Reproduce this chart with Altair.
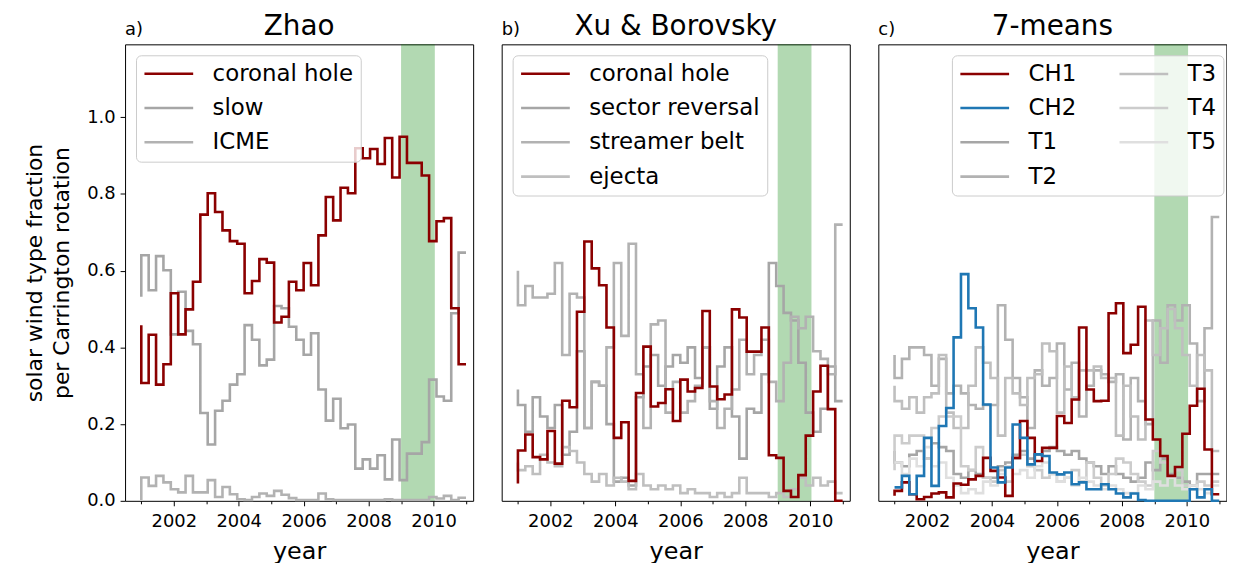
import altair as alt
import pandas as pd

FONT = "DejaVu Sans"

# time grid: one value every 3 Carrington rotations, 2001.0 .. 2011.0
START_YEAR = 2001.0
STEP_YEARS = 10.0 / 44
BAND = (2009.0, 2010.04)

# ---- panel a: Zhao ----
zhao_coronal_hole = [0.458, 0.307, 0.433, 0.303, 0.356, 0.541, 0.434, 0.499, 0.571, 0.746,
                     0.802, 0.753, 0.705, 0.677, 0.670, 0.541, 0.573, 0.630, 0.621, 0.465,
                     0.480, 0.571, 0.549, 0.620, 0.562, 0.692, 0.792, 0.731, 0.816, 0.802,
                     0.919, 0.893, 0.917, 0.878, 0.946, 0.843, 0.949, 0.881, 0.881, 0.848,
                     0.677, 0.729, 0.737, 0.502, 0.356]
zhao_slow = [0.532, 0.640, 0.549, 0.638, 0.601, 0.434, 0.545, 0.443, 0.408, 0.229,
             0.147, 0.235, 0.261, 0.303, 0.330, 0.458, 0.420, 0.353, 0.368, 0.508,
             0.502, 0.454, 0.420, 0.381, 0.437, 0.290, 0.209, 0.266, 0.189, 0.199,
             0.084, 0.108, 0.084, 0.119, 0.056, 0.160, 0.054, 0.123, 0.123, 0.153,
             0.316, 0.272, 0.261, 0.489, 0.647]
zhao_icme = [0.002, 0.061, 0.039, 0.065, 0.048, 0.030, 0.022, 0.065, 0.022, 0.022,
             0.054, 0.010, 0.036, 0.017, 0.004, 0.002, 0.010, 0.019, 0.013, 0.026,
             0.016, 0.007, 0.002, 0.002, 0.002, 0.019, 0.004, 0.002, 0.002, 0.002,
             0.002, 0.002, 0.002, 0.002, 0.004, 0.002, 0.002, 0.002, 0.002, 0.002,
             0.010, 0.006, 0.013, 0.002, 0.008]

# ---- panel b: Xu & Borovsky ----
xb_coronal_hole = [0.045, 0.131, 0.173, 0.114, 0.108, 0.182, 0.097, 0.261, 0.244, 0.493,
                   0.676, 0.606, 0.562, 0.452, 0.164, 0.205, 0.052, 0.281, 0.402, 0.246,
                   0.255, 0.291, 0.208, 0.316, 0.285, 0.294, 0.495, 0.298, 0.265, 0.277,
                   0.499, 0.478, 0.389, 0.389, 0.452, 0.119, 0.112, 0.026, 0.010, 0.067,
                   0.170, 0.285, 0.352, 0.239, 0.0]
xb_sector_reversal = [0.29, 0.25, 0.18, 0.27, 0.22, 0.19, 0.25, 0.12, 0.18, 0.39,
                      0.19, 0.31, 0.30, 0.20, 0.05, 0.06, 0.04, 0.27, 0.35, 0.38,
                      0.30, 0.35, 0.38, 0.36, 0.40, 0.32, 0.40, 0.24, 0.35, 0.40,
                      0.22, 0.11, 0.24, 0.23, 0.33, 0.62, 0.56, 0.49, 0.47, 0.36,
                      0.23, 0.18, 0.24, 0.35, 0.26]
xb_streamer_belt = [0.60, 0.51, 0.56, 0.53, 0.53, 0.54, 0.62, 0.38, 0.54, 0.53,
                    0.19, 0.31, 0.30, 0.40, 0.62, 0.43, 0.67, 0.33, 0.19, 0.46,
                    0.47, 0.23, 0.31, 0.23, 0.26, 0.30, 0.40, 0.26, 0.19, 0.24,
                    0.29, 0.42, 0.33, 0.38, 0.42, 0.31, 0.26, 0.36, 0.48, 0.45,
                    0.48, 0.39, 0.37, 0.33, 0.72]
xb_ejecta = [0.10, 0.08, 0.09, 0.07, 0.12, 0.10, 0.09, 0.14, 0.13, 0.10,
             0.07, 0.05, 0.07, 0.04, 0.06, 0.05, 0.03, 0.07, 0.04, 0.03,
             0.04, 0.03, 0.04, 0.02, 0.03, 0.02, 0.02, 0.01, 0.02, 0.01,
             0.02, 0.06, 0.02, 0.02, 0.02, 0.01, 0.02, 0.01, 0.03, 0.06,
             0.04, 0.06, 0.04, 0.05, 0.02]

# ---- panel c: 7-means ----
km_ch1 = [0.013, 0.026, 0.048, 0.017, 0.004, 0.010, 0.019, 0.022, 0.009, 0.045,
          0.042, 0.056, 0.065, 0.112, 0.078, 0.061, 0.013, 0.112, 0.208, 0.164,
          0.104, 0.138, 0.138, 0.221, 0.203, 0.264, 0.452, 0.290, 0.260, 0.261,
          0.489, 0.515, 0.385, 0.407, 0.506, 0.212, 0.160, 0.117, 0.065, 0.088,
          0.175, 0.248, 0.292, 0.134, 0.017]
km_ch2 = [0.035, 0.035, 0.065, 0.017, 0.065, 0.164, 0.039, 0.195, 0.242, 0.426,
          0.591, 0.502, 0.452, 0.251, 0.087, 0.048, 0.087, 0.199, 0.164, 0.095,
          0.121, 0.117, 0.074, 0.069, 0.074, 0.043, 0.048, 0.030, 0.030, 0.043,
          0.030, 0.019, 0.009, 0.019, 0.002, 0.0, 0.0, 0.0, 0.0, 0.0,
          0.0, 0.030, 0.009, 0.030, 0.0]
km_t1 = [0.13, 0.10, 0.09, 0.12, 0.13, 0.11, 0.15, 0.14, 0.13, 0.07,
         0.06, 0.08, 0.07, 0.06, 0.06, 0.09, 0.10, 0.12, 0.13, 0.11,
         0.12, 0.13, 0.14, 0.13, 0.12, 0.13, 0.11, 0.10, 0.09, 0.07,
         0.09, 0.07, 0.06, 0.05, 0.06, 0.10, 0.08, 0.11, 0.07, 0.06,
         0.05, 0.04, 0.07, 0.07, 0.07]
km_t2 = [0.38, 0.32, 0.37, 0.40, 0.40, 0.38, 0.30, 0.37, 0.28, 0.30,
         0.28, 0.25, 0.24, 0.25, 0.25, 0.51, 0.42, 0.32, 0.27, 0.19,
         0.34, 0.30, 0.32, 0.41, 0.29, 0.36, 0.22, 0.30, 0.34, 0.33,
         0.31, 0.33, 0.16, 0.32, 0.26, 0.20, 0.47, 0.36, 0.51, 0.47,
         0.51, 0.41, 0.26, 0.45, 0.74]
km_t3 = [0.30, 0.26, 0.24, 0.27, 0.23, 0.27, 0.28, 0.38, 0.23, 0.19,
         0.19, 0.30, 0.40, 0.36, 0.32, 0.17, 0.32, 0.28, 0.25, 0.32,
         0.33, 0.41, 0.39, 0.23, 0.35, 0.27, 0.34, 0.34, 0.35, 0.32,
         0.32, 0.17, 0.30, 0.22, 0.16, 0.47, 0.38, 0.45, 0.50, 0.45,
         0.38, 0.30, 0.38, 0.34, 0.13]
km_t4 = [0.08, 0.17, 0.15, 0.17, 0.17, 0.11, 0.19, 0.22, 0.22, 0.22,
         0.09, 0.08, 0.14, 0.06, 0.05, 0.08, 0.05, 0.11, 0.12, 0.09,
         0.08, 0.06, 0.07, 0.05, 0.06, 0.08, 0.05, 0.10, 0.06, 0.04,
         0.07, 0.11, 0.10, 0.07, 0.05, 0.04, 0.13, 0.10, 0.06, 0.08,
         0.04, 0.03, 0.05, 0.04, 0.05]
km_t5 = [0.10, 0.10, 0.07, 0.11, 0.09, 0.14, 0.09, 0.10, 0.06, 0.04,
         0.02, 0.03, 0.02, 0.05, 0.04, 0.07, 0.09, 0.07, 0.08, 0.06,
         0.09, 0.10, 0.07, 0.05, 0.06, 0.04, 0.06, 0.05, 0.04, 0.03,
         0.04, 0.03, 0.02, 0.02, 0.04, 0.03, 0.05, 0.04, 0.06, 0.04,
         0.03, 0.04, 0.03, 0.02, 0.04]

DARKRED = "#8b0000"
BLUE = "#1f77b4"
G70, G60, G50, G40, G25 = "#a6a6a6", "#b2b2b2", "#bfbfbf", "#cccccc", "#dfdfdf"

W, H = 350, 459
X_DOMAIN = [2000.5, 2011.22]
Y_DOMAIN = [0, 1.19]

x_axis = alt.Axis(
    values=list(range(2001, 2012)), format="d",
    labelExpr="datum.value % 2 === 0 ? datum.label : ''",
    tickSize={"condition": {"test": "datum.value % 2 === 0", "value": 5}, "value": 3},
    labelOverlap=False, labelFlush=False, labelPadding=7,
    title="year", titlePadding=9, titleFontSize=24, grid=False,
)


def y_axis(show):
    if show:
        return alt.Axis(values=[0, 0.2, 0.4, 0.6, 0.8, 1.0], format=".1f", tickSize=5,
                        labelPadding=5, grid=False,
                        title=["solar wind type fraction", "per Carrington rotation"],
                        titlePadding=13, titleLineHeight=27)
    return alt.Axis(labels=False, ticks=False, title=None, grid=False)


def make_panel(tag, title, series, legend_order, gray_names, legend):
    rows = []
    for name, vals, _c in series:
        for i, v in enumerate(vals):
            rows.append({"series": name, "x": START_YEAR + i * STEP_YEARS, "y": v, "i": i})
    df = pd.DataFrame(rows)
    cmap = {name: c for name, _v, c in series}
    color = alt.Color("series:N",
                      scale=alt.Scale(domain=legend_order, range=[cmap[n] for n in legend_order]),
                      legend=legend)
    show_y = tag == "a)"
    xs = alt.Scale(domain=X_DOMAIN, nice=False, zero=False)
    ys = alt.Scale(domain=Y_DOMAIN, nice=False)

    band = alt.Chart(pd.DataFrame({"x0": [BAND[0]], "x1": [BAND[1]]})).mark_rect(
        color="green", opacity=0.3
    ).encode(
        x=alt.X("x0:Q", scale=xs, axis=x_axis, title="year"),
        x2="x1:Q",
        y=alt.value(0), y2=alt.value(H),
    )

    def lines(sel):
        return alt.Chart(df).transform_filter(
            alt.FieldOneOfPredicate(field="series", oneOf=sel)
        ).mark_line(interpolate="step-before", strokeWidth=2.6).encode(
            x=alt.X("x:Q", scale=xs, axis=x_axis, title="year"),
            y=alt.Y("y:Q", scale=ys, axis=y_axis(show_y)),
            color=color,
            detail="series:N",
            order="i:Q",
        )

    colored = [n for n in legend_order if n not in gray_names]
    tdf = pd.DataFrame({"tag": [tag], "title": [title]})
    tag_text = alt.Chart(tdf).mark_text(
        align="left", baseline="alphabetic", fontSize=18, font=FONT, color="black"
    ).encode(text="tag:N", x=alt.value(0), y=alt.value(-9))
    title_text = alt.Chart(tdf).mark_text(
        align="center", baseline="alphabetic", fontSize=28, font=FONT, color="black"
    ).encode(text="title:N", x=alt.value(W / 2), y=alt.value(-9))

    return alt.layer(band, lines(gray_names), lines(colored), tag_text, title_text).properties(
        width=W, height=H
    )


def legend_params(orient, columns=None, column_padding=None, legend_x=None):
    kw = dict(
        title=None, orient=orient,
        symbolType="stroke", symbolSize=2400, symbolStrokeWidth=2.6, clipHeight=23,
        labelFontSize=23, labelFont=FONT, labelColor="black", labelLimit=0,
        labelOffset=18, rowPadding=10.5, padding=7,
        strokeColor="#cccccc", fillColor="rgba(255,255,255,0.8)", cornerRadius=5,
    )
    if orient == "none":
        kw["legendX"] = legend_x
        kw["legendY"] = 11
    else:
        kw["offset"] = 11
    if columns:
        kw["columns"] = columns
        kw["columnPadding"] = column_padding
    return alt.Legend(**kw)


panel_a = make_panel(
    "a)", "Zhao",
    [("coronal hole", zhao_coronal_hole, DARKRED), ("slow", zhao_slow, G70), ("ICME", zhao_icme, G60)],
    ["coronal hole", "slow", "ICME"], ["slow", "ICME"],
    legend_params("top-left"),
)
panel_b = make_panel(
    "b)", "Xu & Borovsky",
    [("coronal hole", xb_coronal_hole, DARKRED), ("sector reversal", xb_sector_reversal, G70),
     ("streamer belt", xb_streamer_belt, G60), ("ejecta", xb_ejecta, G50)],
    ["coronal hole", "sector reversal", "streamer belt", "ejecta"],
    ["sector reversal", "streamer belt", "ejecta"],
    legend_params("top-left"),
)
panel_c = make_panel(
    "c)", "7-means",
    [("CH1", km_ch1, DARKRED), ("CH2", km_ch2, BLUE), ("T1", km_t1, G70), ("T2", km_t2, G60),
     ("T3", km_t3, G50), ("T4", km_t4, G40), ("T5", km_t5, G25)],
    ["CH1", "CH2", "T1", "T2", "T3", "T4", "T5"],
    ["T1", "T2", "T3", "T4", "T5"],
    legend_params("none", columns=2, column_padding=42, legend_x=74),
)

chart = alt.hconcat(panel_a, panel_b, panel_c, spacing=26.7).resolve_scale(
    color="independent"
).resolve_legend(color="independent").properties(
    padding={"left": 14.7, "top": 3, "right": 0, "bottom": 0}
).configure_view(
    stroke="black", strokeWidth=1
).configure_axis(
    domain=False, grid=False, tickColor="black", tickWidth=1,
    labelColor="black", titleColor="black", labelFont=FONT, titleFont=FONT,
    labelFontSize=18, titleFontSize=22, titleFontWeight="normal",
)

chart.save("out.html", embed_options={"renderer": "svg", "actions": False})
